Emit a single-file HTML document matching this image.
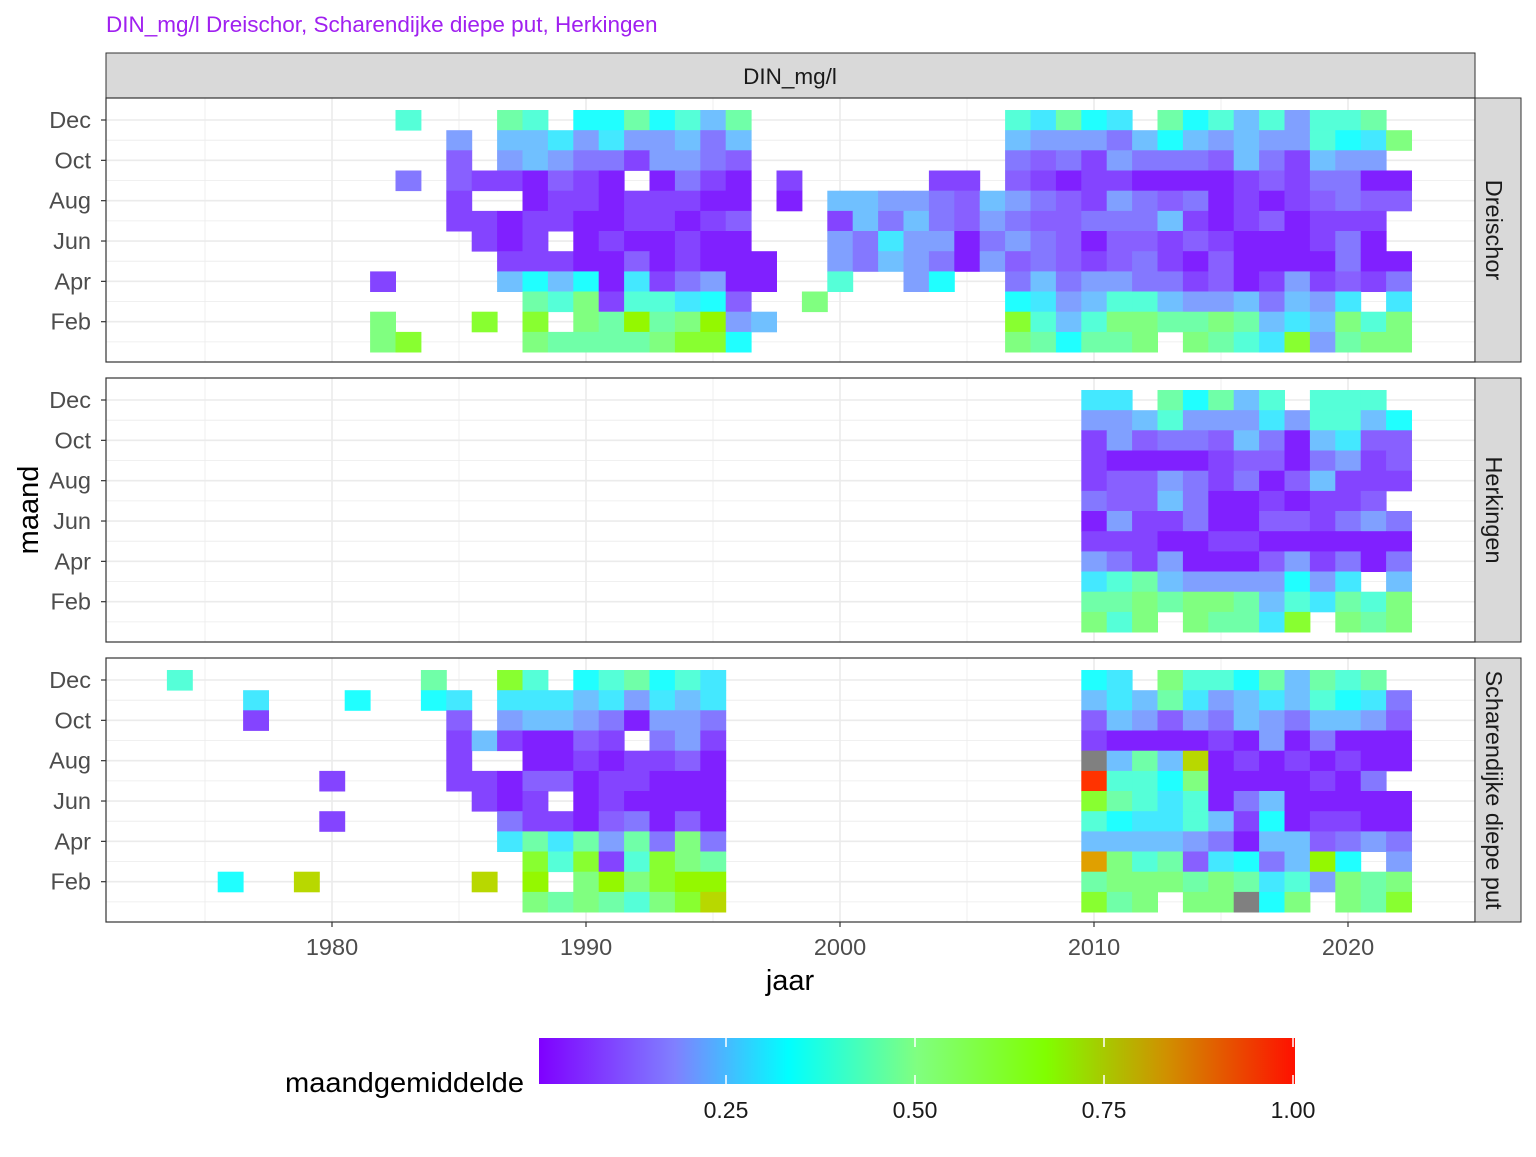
<!DOCTYPE html>
<html><head><meta charset="utf-8"><style>
body{margin:0;background:#fff;}
svg text{font-family:"Liberation Sans",Arial,sans-serif;}
</style></head><body>
<svg id="s" width="1536" height="1152" xmlns="http://www.w3.org/2000/svg">
<defs>
<linearGradient id="cg" x1="0" x2="1" y1="0" y2="0">
<stop offset="0" stop-color="#7f00ff"/>
<stop offset="0.18" stop-color="#8080ff"/>
<stop offset="0.33" stop-color="#00ffff"/>
<stop offset="0.5" stop-color="#80ff80"/>
<stop offset="0.67" stop-color="#80ff00"/>
<stop offset="0.83" stop-color="#d09000"/>
<stop offset="1" stop-color="#ff1000"/>
</linearGradient>
</defs>
<text x="106" y="32" font-size="22.5" fill="#a020f0">DIN_mg/l Dreischor, Scharendijke diepe put, Herkingen</text>
<rect x="106" y="53" width="1369" height="45" fill="#d9d9d9" stroke="#333" stroke-width="1"/>
<text x="790" y="84" font-size="22.5" fill="#1a1a1a" text-anchor="middle">DIN_mg/l</text>
<g id="panels"></g>
<text x="790" y="990" font-size="29" fill="#000" text-anchor="middle">jaar</text>
<text transform="translate(38,510) rotate(-90)" font-size="29" fill="#000" text-anchor="middle">maand</text>
<text x="285" y="1092" font-size="28" fill="#000" textLength="239" lengthAdjust="spacingAndGlyphs">maandgemiddelde</text>
<rect x="539" y="1038" width="756" height="46" fill="url(#cg)"/>
<g stroke="#fff" stroke-width="1.5">
<line x1="726" y1="1038" x2="726" y2="1047"/><line x1="726" y1="1075" x2="726" y2="1084"/>
<line x1="915" y1="1038" x2="915" y2="1047"/><line x1="915" y1="1075" x2="915" y2="1084"/>
<line x1="1104" y1="1038" x2="1104" y2="1047"/><line x1="1104" y1="1075" x2="1104" y2="1084"/>
<line x1="1293" y1="1038" x2="1293" y2="1047"/><line x1="1293" y1="1075" x2="1293" y2="1084"/>
</g>
<g font-size="23" fill="#1a1a1a" text-anchor="middle">
<text x="726" y="1118">0.25</text><text x="915" y="1118">0.50</text><text x="1104" y="1118">0.75</text><text x="1293" y="1118">1.00</text>
</g>
</svg>
<script>
var pal={P:"#8020ff",p:"#8444ff",q:"#8860ff",v:"#8478ff",w:"#80a0ff",b:"#70c0ff",s:"#44e8ff",C:"#20ffff",t:"#55ffd8",a:"#70ffa8",g:"#80ff80",G:"#88ff30",L:"#94f800",y:"#b8d800",o:"#e0a000",r:"#ff3300",x:"#808080"};
var P1=[
[[1983,"t"],[1987,"at.CCaCtba"],[2007,"tsaCs.aCtbtwtta."]],
[[1985,"w.bbswswwbvb"],[2007,"bwwwvbCbwbwwtCsg"]],
[[1985,"q.wbwvvpwwvq"],[2007,"vqvpwvvvqbvpbww."]],
[[1983,"v.qppPqpP.PvpP.p"],[2004,"pp.qpPppPPPPpqpvvPP"]],
[[1985,"p..PppPpppPP.P.b"],[2001,"bwwvqbwvqpwvqvPpPpqvqq"]],
[[1985,"ppPppPPppPpq...p"],[2001,"bvbvqwvqqvvvbpPpqPppp."]],
[[1986,"pPp.PpPPpPP...w"],[2001,"vswwPvwvqPqqpqpPPPpvP."]],
[[1987,"pppPPqPpPPP..w"],[2001,"vbwvPwqvqpqvpPqPPPPvPP"]],
[[1982,"p....bCbCPspvwPP..t"],[2003,"wC..vbvwwvvpqPpwpqpv"]],
[[1988,"atgpttsCq..g"],[2007,"CswbttbwwbvbwsCs.s".slice(0,14)+".s"]],
[[1982,"g...G.G.gaLagLwb"],[2007,"Gtbtggaagabsbgtg"]],
[[1982,"gG....gaaaagGGC"],[2007,"gaCaag.gatsGwagg"]]
];
var P2=["ss.aCabt.ttt.","wwbtwwwswttbC","pwqvvqbvPbsqq","pPPPPpqqPvwpq","pqqwvpvPqbppp","vqqbvPPpPppq.",
"PwppvPPqqpvwv","pppPPppPPPPPP","wvpwPPPqwpvPv","stabwwwwCws.b","aagaggabtsatg","gtg.gaasG.gag"];
var P3=[
[[1974,"t.........a..Gt.CtaCts"],[2010,"Cs.gttCabata."]],
[[1977,"s...C..Cs.sssbswsbs"],[2010,"bsbaswbsbtCsv"]],
[[1977,"p.......q.wbbwvPwwv"],[2010,"qbwqwvbwvbbwq"]],
[[1985,"pbpPPqp.vwp"],[2010,"pPPPPpPwPvPPP"]],
[[1985,"p..PPpPppqP"],[2010,"xbabyPpPpPpPP"]],
[[1980,"p"],[1985,"ppPqqPppPPP"],[2010,"rttCgPPPPpPv."]],
[[1986,"pPp.PpPPPP"],[2010,"GatstPvbPPPPP"]],
[[1980,"p......vppPqvPqP"],[2010,"tCsstbpCPppPP"]],
[[1987,"sasawavgv"],[2010,"bbbbwvPbbqvwv"]],
[[1988,"GtGptGga"],[2010,"ogtaqsCvbLC.w"]],
[[1976,"C..y......y.L.gLgGLL"],[2010,"agggagastwgag"]],
[[1988,"gagatgGy"],[2010,"Gag.ggxCg.gaG"]]
];
var ns="http://www.w3.org/2000/svg",G=document.getElementById("panels");
function el(n,a,par){var e=document.createElementNS(ns,n);for(var k in a)e.setAttribute(k,a[k]);(par||G).appendChild(e);return e;}
function xOf(Y){return 332+(Y-1980)*25.4;}
var tops=[98,378,658],names=["Dreischor","Herkingen","Scharendijke diepe put"],mon=["Dec","Oct","Aug","Jun","Apr","Feb"];
for(var pi=0;pi<3;pi++){
 var T=tops[pi];
 el("rect",{x:106,y:T,width:1369,height:264,fill:"#fff"});
 for(var m=0;m<12;m++){var yy=T+22+m*20.17;el("line",{x1:106,x2:1475,y1:yy,y2:yy,stroke:"#ebebeb","stroke-width":m%2==0?1.6:0.8});}
 for(var Y=1975;Y<=2025;Y+=5){var xx=xOf(Y);if(xx<106||xx>1475)continue;el("line",{x1:xx,x2:xx,y1:T,y2:T+264,stroke:"#ebebeb","stroke-width":Y%10==0?1.6:0.8});}
 for(var r=0;r<12;r++){
  var segs;
  if(pi==1){segs=[[2010,P2[r]]];}else segs=(pi==0?P1:P3)[r];
  for(var s=0;s<segs.length;s++){var y0=segs[s][0],str=segs[s][1];
   for(var i=0;i<str.length;i++){var c=str[i];if(!pal[c])continue;
    el("rect",{x:(xOf(y0+i)-12.7).toFixed(1),y:(T+12+r*20.17).toFixed(1),width:25.9,height:20.6,fill:pal[c]});}}
 }
 el("rect",{x:106,y:T,width:1369,height:264,fill:"none",stroke:"#333","stroke-width":1.2});
 for(var k=0;k<6;k++){var yy=T+22+k*2*20.17;el("line",{x1:101,x2:106,y1:yy,y2:yy,stroke:"#333","stroke-width":1.2});
  var t=el("text",{x:91,y:yy+8,"font-size":23.5,fill:"#4d4d4d","text-anchor":"end"});t.textContent=mon[k];}
 el("rect",{x:1475,y:T,width:46,height:264,fill:"#d9d9d9",stroke:"#333","stroke-width":1});
 var t2=el("text",{transform:"translate(1486,"+(T+132)+") rotate(90)","font-size":23.5,fill:"#1a1a1a","text-anchor":"middle"});t2.textContent=names[pi];
}
for(var Y=1980;Y<=2020;Y+=10){var xx=xOf(Y);el("line",{x1:xx,x2:xx,y1:922,y2:927,stroke:"#333","stroke-width":1.2});
 var t=el("text",{x:xx,y:955,"font-size":23.5,fill:"#4d4d4d","text-anchor":"middle"});t.textContent=Y;}
</script>
</body></html>
